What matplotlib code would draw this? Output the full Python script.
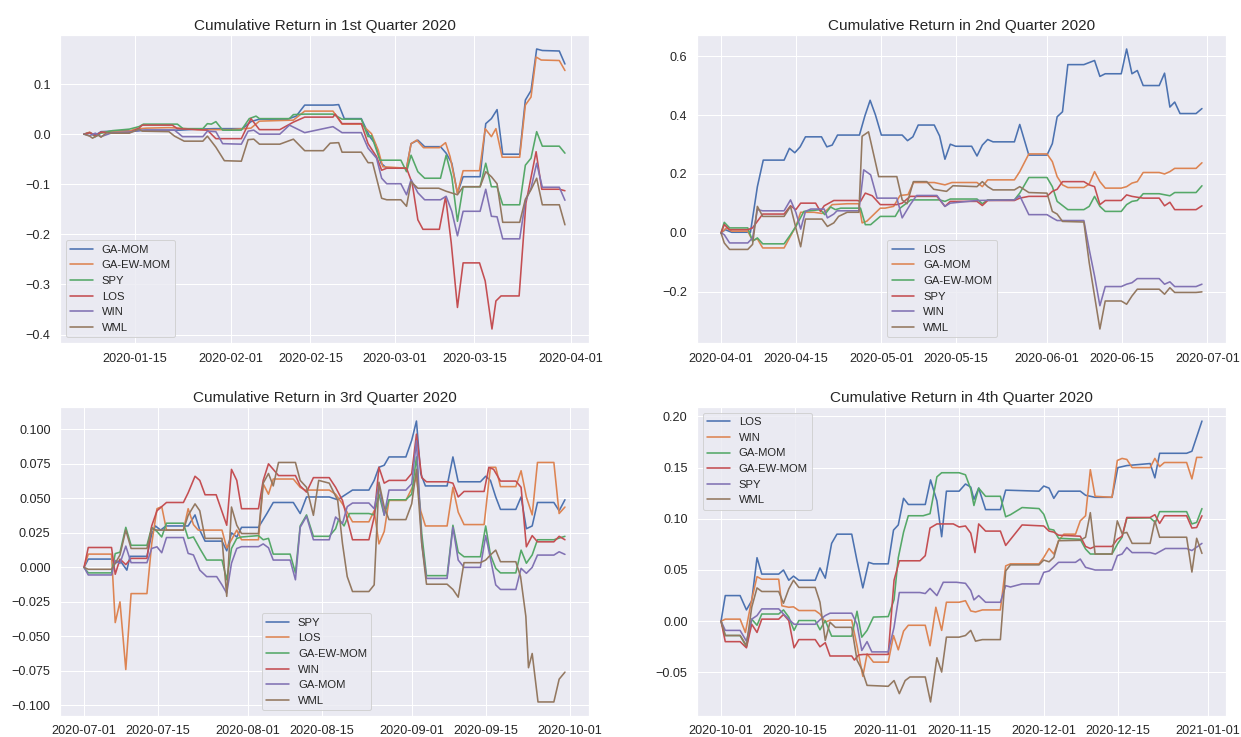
import matplotlib

matplotlib.use("Agg")
import matplotlib.dates as mdates
import matplotlib.pyplot as plt
import pandas as pd
import seaborn as sns

# values are (days since quarter start, cumulative return)
Q1_BASE = "2020-01-01"
Q1_GA_MOM = [(5, 0), (6, .003), (7, -.002), (8, .005), (10, .006), (12, .007), (14, .006), (16, .008),
             (22, .008), (25, .01), (28, .011), (33, .011), (34.5, .025), (36, .03), (41, .03), (42.5, .036),
             (44, .058), (49, .058), (50, .059), (51, .031), (54, .031), (55.5, -.005), (56.5, -.02),
             (57.5, -.058), (58.5, -.068), (62, -.068), (62.8, -.019), (64, -.012), (65.2, -.025), (68, -.025),
             (69, -.038), (70, -.058), (71, -.118), (72, -.085), (75, -.085), (76, .021), (77, .031), (78, .049),
             (79, -.04), (82, -.04), (83, .068), (84, .087), (85, .17), (86, .167), (89, .166), (90, .14)]
Q1_GA_EW_MOM = [(5, 0), (6, .004), (7, -.004), (8, .003), (10, .006), (13, .006), (14, .01), (16, .012),
                (20, .013), (22, .012), (25, .009), (31, .009), (34.5, .012), (36, .026), (42, .028), (44, .046),
                (49, .046), (50.6, .02), (54, .02), (55.8, .001), (57, -.032), (57.8, -.065), (62, -.068),
                (62.8, -.019), (63.8, -.012), (65, -.027), (67.8, -.027), (68.9, -.017), (69.7, -.045),
                (71, -.118), (72, -.073), (74.9, -.073), (75.9, .011), (77, -.005), (77.8, .011), (78.9, -.046),
                (82, -.046), (83, .058), (84, .074), (84.9, .154), (85.8, .148), (89, .147), (90, .127)]
Q1_SPY = [(5, 0), (6, .003), (7, -.005), (8, .002), (10, .007), (13, .01), (14.7, .015), (15.5, .02), (21.5, .02),
          (22.5, .011), (26, .011), (26.8, .021), (27.5, .02), (28.3, .025), (29.5, .008), (32.8, .008),
          (34.2, .031), (35.4, .036), (36, .031), (41.3, .031), (42, .039), (44, .04), (49, .04), (50.6, .03),
          (54, .03), (55.2, -.005), (55.8, -.003), (57.3, -.052), (61, -.052), (62, -.075), (62.8, -.042),
          (64, -.075), (65.2, -.088), (68, -.088), (69, -.042), (70, -.085), (71, -.174), (72, -.105), (75, -.105),
          (76, -.058), (77, -.105), (78, -.105), (79, -.141), (82, -.141), (83, -.062), (84, -.048), (85, .005),
          (86, -.024), (89, -.024), (90, -.038)]
Q1_LOS = [(5, 0), (6, .003), (7, -.003), (8, .004), (10, .002), (13, .003), (14.7, .012), (15.3, .018),
          (20.6, .018), (21.5, .011), (26.8, .008), (28.3, -.009), (32.8, -.009), (34.5, .031), (36, .009),
          (39.6, .009), (42, .024), (44, .034), (49, .034), (49.4, .04), (50.6, .021), (54, .021), (55.2, -.019),
          (56.7, -.045), (57.6, -.072), (58.5, -.068), (62, -.068), (63, -.098), (64, -.171), (64.9, -.19),
          (67.8, -.19), (68.9, -.125), (69.9, -.217), (71, -.346), (72, -.257), (74.9, -.257), (75.9, -.293),
          (77.1, -.389), (77.8, -.333), (78.7, -.323), (81.9, -.323), (83.1, -.138), (84.9, -.035), (85.9, -.11),
          (89, -.11), (90, -.113)]
Q1_WIN = [(5, 0), (6, -.003), (7, .002), (8, -.005), (10, .003), (13, .004), (15, .008), (21, .008),
          (22.4, -.005), (26, -.005), (26.8, .006), (28.3, .005), (29.5, -.019), (32.8, -.02), (34, .006),
          (35, .008), (36, 0), (39.6, 0), (41.3, .018), (44, .003), (49, .015), (50.6, .003), (54, .003),
          (55.2, -.028), (56.7, -.048), (57.6, -.088), (58.5, -.099), (61, -.099), (62, -.121), (62.8, -.091),
          (64, -.117), (65.2, -.131), (68, -.131), (69, -.124), (70, -.154), (71, -.203), (72, -.154), (75, -.154),
          (76, -.11), (77, -.164), (78, -.165), (79, -.209), (82, -.209), (83, -.134), (84, -.108), (85, -.058),
          (86, -.106), (89, -.106), (90, -.132)]
Q1_WML = [(5, 0), (6, -.004), (6.5, -.008), (7.5, -.002), (8, -.006), (9, .003), (10, .002), (13, .002),
          (14.7, .01), (15.3, .006), (20, .005), (21, -.004), (22.7, -.014), (26, -.014), (26.8, -.004),
          (28.3, -.026), (29.8, -.053), (32.8, -.054), (34, -.011), (35, -.01), (36, -.02), (39.6, -.02),
          (42, -.01), (44, -.033), (47.3, -.033), (48.5, -.018), (50, -.017), (50.6, -.036), (54, -.036),
          (55.2, -.057), (56, -.057), (57.6, -.128), (58.5, -.131), (61, -.131), (62, -.144), (62.8, -.095),
          (64, -.108), (67.7, -.108), (69, -.114), (71, -.121), (72, -.105), (75, -.105), (76, -.075), (77, -.085),
          (78, -.099), (79, -.176), (82, -.176), (83, -.13), (84, -.111), (85, -.088), (86, -.141), (89, -.141),
          (90, -.181)]

Q2_BASE = "2020-04-01"
Q2_LOS = [(0, 0), (0.8, .011), (2, .002), (5.5, .002), (6.8, .157), (7.9, .247), (11.8, .247), (12.8, .287),
          (13.8, .272), (14.8, .292), (15.8, .326), (18.8, .326), (19.8, .292), (20.8, .298), (21.8, .332),
          (25.9, .332), (26.9, .396), (27.9, .45), (28.9, .40), (30, .332), (33.9, .332), (34.9, .313),
          (35.9, .326), (36.9, .366), (39.9, .366), (40.9, .329), (41.9, .25), (42.9, .301), (43.9, .294),
          (46.9, .294), (47.9, .261), (48.9, .298), (49.9, .317), (50.9, .309), (54.9, .309), (55.9, .368),
          (57.6, .264), (61, .264), (62, .303), (62.9, .394), (63.9, .411), (64.9, .571), (67.9, .571),
          (69.9, .585), (70.9, .531), (71.9, .54), (74.9, .54), (75.9, .624), (76.9, .54), (77.9, .551),
          (79, .5), (82, .5), (83, .542), (84, .427), (84.9, .444), (85.9, .405), (88.9, .405), (90, .422)]
Q2_GA_MOM = [(0, 0), (1, .017), (2, .006), (5, .006), (5.9, -.026), (6.8, -.02), (7.8, -.051), (11.8, -.051),
             (13, -.011), (14, .022), (14.9, .07), (17.4, .07), (18.9, .066), (19.9, .079), (20.8, .096),
             (23.6, .099), (25.8, .099), (26.4, .034), (27.3, .04), (29.8, .084), (30.7, .084), (32.3, .09),
             (33.5, .127), (35, .13), (36, .171), (39.9, .171), (41.9, .163), (43.2, .171), (47.9, .171),
             (48.9, .157), (49.9, .18), (54.9, .18), (55.9, .208), (57.6, .268), (61, .268), (62, .242),
             (62.9, .191), (63.9, .163), (64.9, .154), (67.9, .154), (68.9, .166), (69.9, .208), (70.9, .174),
             (71.9, .152), (74.9, .152), (75.9, .157), (76.9, .169), (77.9, .174), (79, .205), (82, .205),
             (83, .2), (84, .208), (84.9, .219), (88.9, .219), (90, .238)]
Q2_GA_EW_MOM = [(0, 0), (0.6, .036), (1.6, .017), (5, .017), (5.9, -.028), (6.8, -.017), (7.8, -.037),
                (11.8, -.037), (13, -.006), (14, .022), (15.5, .073), (18.6, .079), (19.4, .062), (20.5, .088),
                (21.4, .079), (22.4, .084), (26.1, .084), (27, .028), (28, .028), (29.8, .056), (32.6, .056),
                (33.5, .084), (35.5, .112), (40.9, .112), (41.9, .107), (42.9, .115), (47.9, .115), (48.9, .099),
                (49.9, .112), (54.9, .112), (55.9, .135), (57.6, .188), (61, .188), (62, .157), (62.9, .107),
                (64.9, .079), (67.9, .079), (68.9, .09), (69.9, .124), (70.9, .09), (71.9, .073), (74.9, .073),
                (75.9, .096), (76.9, .107), (77.9, .11), (79, .133), (82, .133), (84, .126), (84.9, .137),
                (88.9, .137), (90, .16)]
Q2_SPY = [(0, 0), (0.6, .028), (1.6, .011), (5, .011), (5.9, .017), (7.8, .064), (11.8, .064), (13, .092),
          (14, .079), (14.9, .101), (17.7, .101), (18.6, .073), (19.3, .092), (20.2, .101), (21.1, .11),
          (25.5, .11), (26.1, .107), (27, .135), (28.3, .126), (29.8, .096), (32.9, .096), (33.9, .101),
          (35.4, .124), (40.4, .124), (41.9, .09), (42.9, .107), (47.9, .107), (48.9, .093), (49.9, .11),
          (54.9, .11), (55.9, .118), (57.6, .124), (61, .124), (62, .141), (62.9, .148), (63.9, .174),
          (67.9, .174), (68.9, .163), (69.9, .157), (70.9, .096), (71.9, .11), (74.9, .11), (75.9, .129),
          (76.9, .124), (77.9, .121), (79, .118), (82, .118), (83, .092), (84, .104), (84.9, .079), (88.9, .079),
          (90, .092)]
Q2_WIN = [(0, 0), (0.6, -.006), (1.6, -.034), (5, -.034), (5.9, -.017), (6.8, .079), (7.8, .075), (11.8, .075),
          (13, .112), (14, .07), (14.9, .013), (15.8, .073), (16.8, .081), (19.3, .081), (19.9, .051),
          (21.1, .064), (21.7, .075), (25.8, .075), (26.7, .214), (28, .197), (29.2, .118), (32.9, .118),
          (33.9, .051), (35.4, .096), (36.6, .127), (40.4, .127), (41.9, .09), (42.9, .101), (47.9, .11),
          (54.9, .112), (55.9, .126), (57.6, .062), (61, .062), (62, .051), (62.9, .042), (67.9, .042),
          (68.9, -.056), (69.9, -.146), (70.9, -.247), (71.9, -.182), (74.9, -.182), (75.9, -.174), (76.9, -.169),
          (77.9, -.155), (82, -.155), (83, -.174), (84, -.166), (84.9, -.182), (88.9, -.182), (90, -.174)]
Q2_WML = [(0, 0), (0.6, -.034), (1.6, -.056), (5, -.056), (5.9, -.039), (6.8, .09), (7.8, .056), (11.8, .056),
          (13, .09), (14, .017), (14.9, -.047), (15.8, .047), (18.9, .047), (19.9, .022), (21.1, .034), (22, .056),
          (23.6, .07), (25.8, .07), (26.4, .328), (27.6, .343), (29.5, .191), (32.9, .191), (33.9, .112),
          (34.8, .099), (36, .174), (38.5, .174), (39.8, .148), (42.2, .141), (43.4, .16), (47.9, .157),
          (48.9, .174), (49.9, .157), (50.9, .146), (54.9, .146), (55.9, .157), (57.6, .137), (61, .135),
          (62, .073), (62.9, .064), (63.9, .039), (67.9, .037), (68.9, -.101), (69.9, -.214), (70.9, -.326),
          (71.9, -.231), (74.9, -.231), (75.9, -.242), (76.9, -.214), (77.9, -.191), (82, -.191), (83, -.208),
          (84, -.186), (84.9, -.202), (88.9, -.202), (90, -.2)]

Q3_BASE = "2020-07-01"
Q3_SPY = [(0, 0), (0.8, .006), (5.2, .006), (5.9, .003), (6.8, .005), (8.1, -.002), (8.7, .008), (11.9, .008),
          (12.8, .024), (13.5, .03), (14.5, .027), (15.5, .03), (19.7, .03), (21, .038), (21.9, .027),
          (22.9, .019), (26.1, .019), (27, .012), (27.9, .025), (28.9, .022), (29.8, .029), (33, .029),
          (34.6, .039), (35.8, .047), (39.6, .047), (40.9, .039), (42.1, .051), (46.4, .051), (48, .049),
          (50.8, .056), (53.9, .056), (54.9, .063), (55.8, .0725), (56.8, .074), (57.7, .08), (60.9, .08),
          (62, .092), (62.9, .106), (63.7, .068), (64.6, .059), (68.7, .059), (69.8, .08), (70.8, .062), (75, .062),
          (76, .066), (76.9, .063), (77.9, .051), (78.8, .042), (81.7, .042), (82.7, .051), (83.7, .028),
          (84.8, .03), (85.8, .047), (88.9, .047), (89.9, .041), (91, .049)]
Q3_LOS = [(0, 0), (0.8, .0096), (5.2, .0096), (5.9, -.04), (6.8, -.025), (7.9, -.074), (8.9, -.019),
          (11.9, -.019), (12.8, .017), (13.8, .0425), (14.7, .044), (15.6, .027), (18.8, .027), (19.7, .0425),
          (20.7, .031), (21.6, .027), (26.1, .027), (27, .014), (27.9, .02), (28.9, .027), (29.8, .02), (33, .02),
          (33.9, .0605), (34.9, .053), (35.8, .064), (39.6, .064), (40.9, .058), (41.8, .056), (46.4, .056),
          (47.6, .053), (48.9, .046), (50.8, .033), (53.9, .033), (54.9, .041), (55.8, .017), (56.8, .026),
          (57.7, .0485), (60.9, .0485), (62, .057), (62.9, .065), (63.7, .041), (64.6, .03), (68.7, .03),
          (69.8, .058), (70.8, .04), (71.9, .031), (75.7, .031), (76.9, .0725), (77.9, .0725), (78.8, .0585),
          (81.7, .0585), (82.7, .07), (83.7, .051), (84.8, .038), (85.8, .076), (88.9, .076), (89.9, .039),
          (91, .0437)]
Q3_GA_EW_MOM = [(0, 0), (0.8, -.004), (5.2, -.004), (5.9, .01), (6.8, .011), (7.9, .029), (8.9, .016),
                (11.9, .016), (12.8, .029), (13.8, .026), (14.7, .022), (15.6, .032), (18.8, .032), (19.7, .021),
                (20.7, .022), (21.9, .0137), (23.2, .0053), (26.1, .0053), (27, -.009), (27.9, .0137),
                (28.9, .021), (29.8, .022), (33, .023), (33.9, .02), (34.9, .021), (35.8, .0096), (39, .0096),
                (40, -.004), (40.9, .03), (42.1, .038), (43.4, .0225), (46.4, .0225), (47.6, .028), (48.2, .035),
                (49.2, .03), (50.2, .039), (53.9, .039), (54.9, .038), (55.8, .053), (56.8, .038), (57.7, .049),
                (60.9, .049), (62, .053), (62.9, .08), (63.9, .0245), (64.8, -.006), (68.7, -.006),
                (69.8, .0305), (70.8, .011), (71.9, .0077), (75, .0077), (76, .03), (76.9, .009), (77.9, -.0007),
                (78.8, -.004), (81.7, -.004), (82.7, .0125), (83.7, .003), (84.8, .009), (85.8, .02),
                (88.9, .02), (91, .0225)]
Q3_WIN = [(0, 0), (0.8, .0144), (5.2, .0144), (5.9, -.005), (6.8, .006), (7.9, .002), (8.9, .0065),
          (11.9, .0065), (12.8, .03), (13.8, .041), (14.7, .044), (15.6, .047), (18.8, .047), (19.7, .054),
          (21, .066), (21.9, .063), (22.9, .0526), (25, .0526), (27, .0305), (27.9, .071), (28.9, .063),
          (29.8, .0425), (33, .0425), (33.9, .063), (34.9, .075), (35.8, .071), (36.8, .0665), (40, .0665),
          (40.9, .059), (42.1, .0545), (43.4, .065), (46.4, .065), (47.6, .058), (48.9, .0485), (50.8, .02),
          (53.9, .02), (54.9, .0365), (55.8, .0725), (56.8, .061), (57.7, .063), (60.9, .063), (62, .068),
          (62.9, .0965), (63.9, .065), (64.8, .062), (68.7, .062), (69.8, .061), (70.8, .051), (71.9, .055),
          (75.7, .055), (76.6, .0725), (77.5, .071), (78.8, .0625), (81.7, .0625), (82.7, .058), (83.7, .0149),
          (84.8, .023), (85.8, .0185), (88.9, .0185), (89.9, .0225), (91, .02)]
Q3_GA_MOM = [(0, 0), (0.8, -.0055), (5.2, -.0055), (5.9, .005), (6.8, .0029), (7.9, .0154), (8.9, .0034),
             (11.9, .0034), (12.8, .0137), (13.8, .0149), (14.7, .0106), (15.6, .0216), (18.8, .0216),
             (19.7, .0101), (20.7, .009), (21.9, -.002), (23.2, -.0067), (25.1, -.0067), (26.1, -.0127),
             (27, -.0187), (27.9, .003), (28.9, .0137), (29.8, .015), (33, .015), (33.9, .017), (34.9, .0142),
             (35.8, .0053), (39, .0053), (40, -.009), (40.9, .029), (42.1, .037), (43.4, .02), (46.4, .02),
             (47.6, .0365), (48.9, .0317), (49.8, .044), (50.8, .0466), (53.9, .0466), (54.9, .0425), (55.8, .06),
             (56.8, .0377), (57.7, .056), (60.9, .056), (62, .0605), (62.9, .0917), (63.9, .0173), (64.8, -.008),
             (68.7, -.008), (69.8, .029), (70.8, .0053), (71.9, 0), (75, 0), (76, .023), (76.9, .0065),
             (77.9, -.0127), (78.8, -.016), (81.7, -.016), (82.7, -.0007), (83.7, -.0043), (84.8, 0),
             (85.8, .0089), (88.9, .0089), (89.9, .0113), (91, .0094)]
Q3_WML = [(0, 0), (0.8, -.0014), (5.2, -.0014), (5.9, .0029), (6.8, .009), (7.9, .027), (8.9, .0137),
          (11.9, .0137), (12.8, .028), (13.8, .027), (18.8, .027), (19.7, .0377), (21, .046), (21.9, .041),
          (22.9, .021), (26.1, .021), (27, -.021), (27.9, .0437), (28.9, .0305), (29.8, .0245), (33, .0245),
          (33.9, .061), (34.9, .068), (35.8, .059), (36.8, .076), (40, .076), (40.9, .063), (42.1, .058),
          (43.4, .0377), (44.4, .063), (46.4, .061), (48, .0485), (48.9, .0173), (49.8, -.0067), (50.8, -.0175),
          (53.9, -.0175), (54.9, -.0127), (55.8, .0617), (56.8, .0437), (57.7, .0346), (60.9, .0346), (62, .046),
          (62.9, .071), (63.9, .0173), (64.8, -.0122), (68.7, -.0122), (69.8, -.016), (70.8, -.0216),
          (71.9, .0034), (75, .0034), (76, .0053), (76.9, .009), (77.9, .0125), (78.8, .0041), (81.7, .0041),
          (82.6, -.0067), (83.6, -.0355), (84.1, -.0727), (84.8, -.0624), (85.9, -.0975), (88.9, -.0975),
          (89.9, -.081), (91, -.0759)]

Q4_BASE = "2020-10-01"
Q4_LOS = [(0, 0), (0.8, .025), (3.6, .025), (4.8, .011), (5.8, .02), (6.8, .062), (7.7, .046), (10.9, .046),
          (11.8, .05), (12.8, .04), (13.7, .044), (14.7, .04), (17.8, .04), (18.7, .052), (19.7, .042),
          (20.9, .076), (21.9, .085), (24.7, .085), (25.7, .059), (26.8, .0325), (27.9, .0575), (28.8, .056),
          (31.6, .056), (32.6, .089), (33.5, .094), (34.5, .12), (35.4, .114), (38.6, .114), (39.6, .138),
          (40.8, .1175), (41.7, .0825), (42.6, .127), (45, .127), (46.2, .134), (47.2, .131), (47.8, .119),
          (48.7, .13), (50, .109), (52.8, .109), (53.8, .128), (60.1, .127), (61, .132), (62, .13), (62.9, .12),
          (63.8, .127), (67.9, .127), (68.9, .123), (70.7, .121), (73.9, .121), (75, .15), (76.7, .152),
          (81.1, .154), (82, .14), (82.9, .164), (88, .164), (89, .166), (90.9, .1955)]
Q4_WIN = [(0, 0), (0.8, .002), (3.6, .002), (4.6, -.011), (5.8, .021), (6.8, .0435), (7.7, .041), (10.9, .041),
          (11.5, .015), (12.8, .0136), (13.7, .014), (14.7, .0104), (17.8, .0104), (18.7, .007), (19.7, -.001),
          (20.6, .001), (24.7, .001), (25.7, -.024), (26.8, -.0539), (27.6, -.032), (28.8, -.04), (31.6, -.04),
          (32.6, -.014), (33.5, -.028), (34.5, -.0097), (35.4, -.004), (38.6, -.004), (39.5, -.024),
          (40.6, .0136), (41.7, -.009), (42.6, .0185), (45, .0185), (46.2, .02), (47.2, .01), (48.1, .009),
          (49.4, .011), (52.8, .011), (53.8, .054), (54.7, .056), (60.1, .056), (61, .0623), (62, .071),
          (62.9, .0656), (63.8, .0786), (64.8, .085), (67, .085), (67.9, .098), (68.9, .103), (69.8, .148),
          (70.7, .122), (73.9, .121), (74.9, .157), (75.8, .159), (76.7, .158), (77.7, .15), (81.1, .15),
          (82, .159), (82.9, .151), (83.8, .155), (88, .155), (89, .139), (89.9, .16), (90.9, .16)]
Q4_GA_MOM = [(0, 0), (0.8, -.014), (3.6, -.014), (4.8, -.025), (5.8, .002), (6.8, -.004), (7.7, .007),
             (10.9, .007), (11.8, .011), (12.8, .004), (13.8, -.009), (14.7, .0006), (17.8, .0006), (18.7, -.0084),
             (19.7, .0006), (20.9, -.0146), (24.7, -.0146), (25.7, .0097), (26.6, -.0156), (27.6, -.009),
             (28.8, .004), (31.6, .0045), (32.7, .021), (33.5, .062), (34.5, .087), (35.4, .103), (38.2, .103),
             (39.5, .105), (40.8, .141), (41.7, .145), (45, .145), (46.2, .143), (47.2, .129), (47.8, .113),
             (48.7, .13), (50, .122), (52.8, .122), (53.8, .102), (54.7, .104), (56.9, .111), (60.1, .11),
             (61, .1045), (62, .09), (62.9, .089), (63.8, .081), (67.9, .08), (68.9, .0705), (69.8, .0656),
             (73.9, .0656), (75, .076), (75.8, .082), (76.7, .1006), (81.1, .101), (82.1, .0964), (82.9, .107),
             (88, .107), (89, .095), (89.9, .0965), (90.9, .11)]
Q4_GA_EW_MOM = [(0, 0), (0.8, -.02), (3.6, -.02), (4.8, -.026), (5.8, -.003), (6.8, -.011), (7.7, .002),
                (10.9, .002), (11.8, .0065), (12.8, .0006), (13.8, -.026), (14.7, -.018), (17.8, -.018),
                (18.7, -.025), (19.7, -.021), (20.6, -.034), (24.7, -.034), (25.2, -.038), (26, -.033),
                (26.9, -.0325), (31.6, -.0325), (32.7, .04), (33.7, .059), (37.6, .059), (38.6, .064),
                (39.5, .091), (40.8, .095), (43.9, .095), (45, .092), (46.2, .093), (47.2, .086), (48, .067),
                (48.7, .095), (50, .088), (52.8, .088), (53.8, .074), (56.9, .094), (61, .093), (62, .088),
                (62.9, .087), (63.8, .084), (67.9, .083), (68.9, .073), (69.8, .071), (70.7, .073), (73.9, .073),
                (74.9, .08), (75.8, .083), (76.7, .1013), (81.1, .1013), (82, .104), (82.9, .0955), (83.8, .103),
                (88, .103), (89, .091), (89.9, .0915), (90.9, .103)]
Q4_SPY = [(0, 0), (0.8, -.009), (3.6, -.009), (4.8, -.0195), (5.8, .002), (6.8, .0055), (7.7, .012),
          (10.9, .012), (11.8, .007), (12.8, .002), (13.8, -.003), (17.8, -.003), (18.7, .0013), (19.7, .0055),
          (20.6, .0078), (24.7, .0078), (25.7, -.003), (26.6, -.0286), (27.6, -.02), (28.5, -.03), (31.6, -.03),
          (32.7, -.006), (33.7, .028), (37.6, .028), (38.6, .027), (39.5, .032), (40.8, .025), (42, .038),
          (44.5, .038), (46.2, .037), (47.2, .03), (47.8, .0208), (48.7, .025), (50, .0185), (52.8, .0185),
          (53.8, .0347), (54.7, .0334), (56.9, .0364), (60.1, .0364), (61, .0477), (62, .049), (63.8, .0575),
          (67, .0575), (67.9, .0607), (68.9, .0526), (70.7, .05), (73.9, .05), (74.9, .064), (75.8, .0656),
          (76.7, .072), (77.7, .067), (81.1, .067), (82.1, .0656), (84, .071), (88, .071), (89, .069),
          (90.9, .076)]
Q4_WML = [(0, 0), (0.8, -.014), (3.6, -.014), (4.8, -.0237), (5.8, .0136), (6.8, .0325), (7.7, .029),
          (10.9, .029), (11.8, .0175), (12.8, .0315), (13.7, .04), (14.7, .033), (17.8, .033), (18.7, .0185),
          (19.7, -.0188), (20.6, -.001), (21.6, -.006), (24.7, -.006), (25.7, -.038), (26.6, -.047),
          (27.6, -.0627), (31.6, -.0636), (32.7, -.058), (33.7, -.0708), (34.8, -.058), (35.7, -.0545),
          (38.6, -.0545), (39.6, -.0789), (40.8, -.0357), (41.7, -.0497), (42.6, -.0156), (45, -.0156),
          (46.2, -.014), (47.2, -.009), (48.1, -.0195), (49.4, -.018), (52.8, -.018), (53.8, .049), (54.7, .055),
          (60.1, .055), (61, .0597), (62, .058), (62.9, .0623), (63.8, .0786), (67.9, .079), (68.9, .082),
          (69.8, .106), (70.7, .0656), (73.9, .0656), (74.9, .098), (75.8, .0857), (76.7, .0867), (77.7, .076),
          (81.1, .076), (82, .098), (82.9, .082), (88, .082), (89, .048), (89.9, .081), (90.9, .0662)]

# legend order per panel = plotting order, colours follow the default cycle
PANELS = [
    ("Cumulative Return in 1st Quarter 2020", Q1_BASE,
     [("GA-MOM", Q1_GA_MOM), ("GA-EW-MOM", Q1_GA_EW_MOM), ("SPY", Q1_SPY),
      ("LOS", Q1_LOS), ("WIN", Q1_WIN), ("WML", Q1_WML)]),
    ("Cumulative Return in 2nd Quarter 2020", Q2_BASE,
     [("LOS", Q2_LOS), ("GA-MOM", Q2_GA_MOM), ("GA-EW-MOM", Q2_GA_EW_MOM),
      ("SPY", Q2_SPY), ("WIN", Q2_WIN), ("WML", Q2_WML)]),
    ("Cumulative Return in 3rd Quarter 2020", Q3_BASE,
     [("SPY", Q3_SPY), ("LOS", Q3_LOS), ("GA-EW-MOM", Q3_GA_EW_MOM),
      ("WIN", Q3_WIN), ("GA-MOM", Q3_GA_MOM), ("WML", Q3_WML)]),
    ("Cumulative Return in 4th Quarter 2020", Q4_BASE,
     [("LOS", Q4_LOS), ("WIN", Q4_WIN), ("GA-MOM", Q4_GA_MOM),
      ("GA-EW-MOM", Q4_GA_EW_MOM), ("SPY", Q4_SPY), ("WML", Q4_WML)]),
]

W, H = 1241, 737
DPI = 72
# axes boxes in pixels: left, top, right, bottom
BOXES = [(60, 35, 589, 343), (697, 35, 1226, 343), (60, 407, 589, 716), (697, 407, 1226, 716)]
LEGENDS = [dict(loc="lower left"),
           dict(loc="lower center", bbox_to_anchor=(0.463, 0.0)),
           dict(loc="lower center", bbox_to_anchor=(0.485, 0.0)),
           dict(loc="upper left")]


def main():
    sns.set_theme()
    plt.rcParams["font.family"] = ["Liberation Sans", "DejaVu Sans"]
    fig = plt.figure(figsize=(W / DPI, H / DPI), dpi=DPI)
    for (title, base, series), box, leg in zip(PANELS, BOXES, LEGENDS):
        l, t, r, b = box
        ax = fig.add_axes([l / W, 1 - b / H, (r - l) / W, (b - t) / H])
        start = pd.Timestamp(base)
        for name, pts in series:
            x = [start + pd.Timedelta(days=d) for d, _ in pts]
            y = [v for _, v in pts]
            ax.plot(x, y, label=name, lw=1.6)
        ax.xaxis.set_major_locator(mdates.DayLocator(bymonthday=[1, 15]))
        ax.xaxis.set_major_formatter(mdates.DateFormatter("%Y-%m-%d"))
        ax.set_title(title, fontsize=15.2, pad=5)
        ax.tick_params(labelsize=12.6)
        ax.legend(fontsize=11.3, **leg)
    fig.savefig("out.png", dpi=DPI)


if __name__ == "__main__":
    main()
